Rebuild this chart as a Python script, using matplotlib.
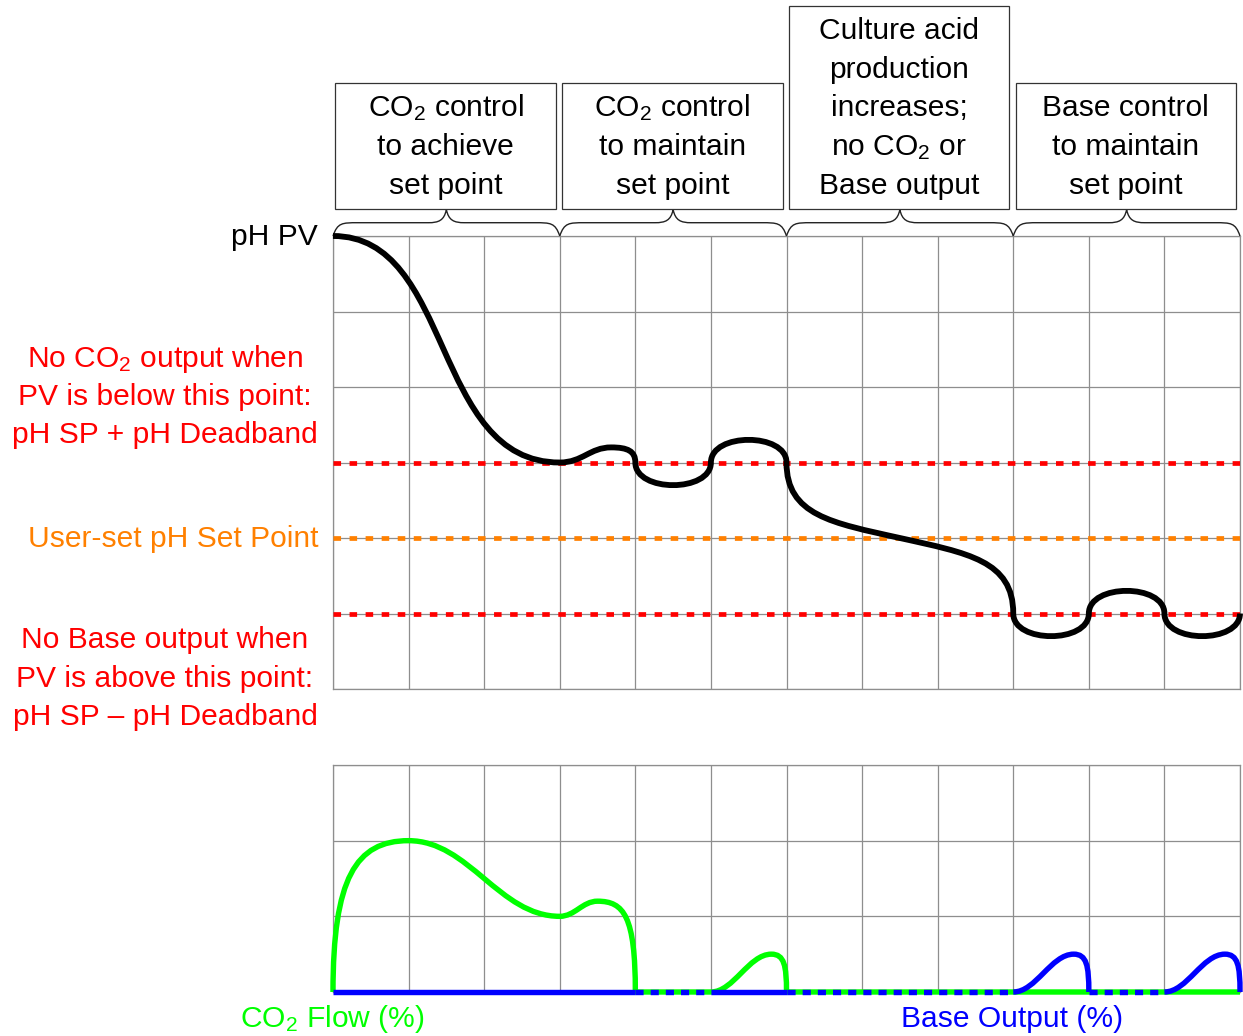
import numpy as np
import matplotlib
matplotlib.use('Agg')
import matplotlib.pyplot as plt
from matplotlib.path import Path
from matplotlib.patches import PathPatch, Rectangle

plt.rcParams['font.family'] = ['Liberation Sans', 'DejaVu Sans']
plt.rcParams['mathtext.fontset'] = 'custom'
plt.rcParams['mathtext.rm'] = 'Liberation Sans'
plt.rcParams['mathtext.it'] = 'Liberation Sans:italic'
plt.rcParams['mathtext.bf'] = 'Liberation Sans:bold'

# ---------------- data ----------------
n_cols = 12
ph_rows = 6
out_rows = 3
deadband_high = 3      # pH SP + deadband (grid units)
set_point = 2          # user set point
deadband_low = 1       # pH SP - deadband

# pH PV curve: start point, then cubic Bezier segments (ctrl, ctrl, end)
pv_x = [0.0,
        1.6, 1.3, 3.0,
        3.3, 3.4, 3.68,
        3.9, 4.0, 4.0,
        4.0, 5.0, 5.0,
        5.0, 6.0, 6.0,
        6.0, 6.6, 7.5,
        8.4, 9.0, 9.0,
        9.0, 10.0, 10.0,
        10.0, 11.0, 11.0,
        11.0, 12.0, 12.0]
pv_y = [6.0,
        6.0, 3.0, 3.0,
        3.0, 3.2, 3.2,
        3.2, 3.15, 3.0,
        2.6, 2.6, 3.0,
        3.4, 3.4, 3.0,
        2.3, 2.2, 2.0,
        1.8, 1.7, 1.0,
        0.6, 0.6, 1.0,
        1.4, 1.4, 1.0,
        0.6, 0.6, 1.0]

# CO2 flow (%) curve: start, Bezier segments; None marks a straight run to the next point
co2_x = [0.0,
         0.0, 0.3, 1.0,
         1.8, 2.2, 3.0,
         3.2, 3.3, 3.5,
         3.85, 4.0, 4.0,
         None, 5.0,
         5.3, 5.5, 5.8,
         5.97, 6.0, 6.0,
         None, 12.0]
co2_y = [0.0,
         1.5, 2.0, 2.0,
         2.0, 1.0, 1.0,
         1.0, 1.2, 1.2,
         1.2, 1.0, 0.0,
         None, 0.0,
         0.0, 0.5, 0.5,
         0.5, 0.35, 0.0,
         None, 0.0]

# Base output (%) bumps
base_x = [[9.0, 9.3, 9.5, 9.8, 9.97, 10.0, 10.0],
          [11.0, 11.3, 11.5, 11.8, 11.97, 12.0, 12.0]]
base_y = [[0.0, 0.0, 0.5, 0.5, 0.5, 0.35, 0.0],
          [0.0, 0.0, 0.5, 0.5, 0.5, 0.35, 0.0]]

co2_on = [(0, 4), (5, 6)]
idle = [(4, 5), (6, 9), (10, 11)]

phase_spans = [(0, 3), (3, 6), (6, 9), (9, 12)]
phase_labels = [
    ['CO$_\\mathrm{2}$ control', 'to achieve', 'set point'],
    ['CO$_\\mathrm{2}$ control', 'to maintain', 'set point'],
    ['Culture acid', 'production', 'increases;', 'no CO$_\\mathrm{2}$ or', 'Base output'],
    ['Base control', 'to maintain', 'set point'],
]
high_label = ['No CO$_\\mathrm{2}$ output when', 'PV is below this point:', 'pH SP + pH Deadband']
low_label = ['No Base output when', 'PV is above this point:', 'pH SP \u2013 pH Deadband']
sp_label = 'User-set pH Set Point'
pv_label = 'pH PV'
co2_label = 'CO$_\\mathrm{2}$ Flow (%)'
base_label = 'Base Output (%)'


def bezier_path(xs, ys):
    verts, codes = [(xs[0], ys[0])], [Path.MOVETO]
    i = 1
    while i < len(xs):
        if xs[i] is None:
            verts.append((xs[i + 1], ys[i + 1]))
            codes.append(Path.LINETO)
            i += 2
        else:
            for k in range(3):
                verts.append((xs[i + k], ys[i + k]))
                codes.append(Path.CURVE4)
            i += 3
    return Path(verts, codes)


# ---------------- figure ----------------
W, H, DPI = 1243, 1036, 100
fig = plt.figure(figsize=(W / DPI, H / DPI), dpi=DPI)


def fx(x):
    return x / W


def fy(y):
    return 1 - y / H


GRID = '#8e8e8e'
FS = 21.6

ax = fig.add_axes([fx(333), fy(689), fx(1240) - fx(333), fy(236) - fy(689)])
ax2 = fig.add_axes([fx(333), fy(992), fx(1240) - fx(333), fy(765) - fy(992)])

for a, rows in ((ax, ph_rows), (ax2, out_rows)):
    a.set_xlim(0, n_cols)
    a.set_ylim(0, rows)
    a.set_xticks(range(n_cols + 1))
    a.set_yticks(range(rows + 1))
    a.grid(True, color=GRID, lw=0.9)
    a.tick_params(length=0, labelbottom=False, labelleft=False)
    for s in a.spines.values():
        s.set_color(GRID)
        s.set_linewidth(0.9)
    a.set_axisbelow(True)

# reference lines
ax.plot([0, n_cols], [deadband_high] * 2, color='#ff0000', lw=3.4, dashes=(1.6, 1.8), zorder=3)
ax.plot([0, n_cols], [set_point] * 2, color='#ff8000', lw=3.4, dashes=(1.6, 1.8), zorder=3)
ax.plot([0, n_cols], [deadband_low] * 2, color='#ff0000', lw=3.4, dashes=(1.6, 1.8), zorder=3)

# PV curve
ax.add_patch(PathPatch(bezier_path(pv_x, pv_y), fill=False, edgecolor='black', lw=4.2,
                       joinstyle='round', capstyle='butt', clip_on=False, zorder=5))

# outputs
ax2.add_patch(PathPatch(bezier_path(co2_x, co2_y), fill=False, edgecolor='#00ff00', lw=3.9,
                        joinstyle='round', capstyle='butt', clip_on=False, zorder=4))
for a0, b0 in co2_on:
    ax2.plot([a0, b0], [0, 0], color='#0000ff', lw=3.9, solid_capstyle='butt', clip_on=False, zorder=5)
for a0, b0 in idle:
    ax2.plot([a0, b0], [0, 0], color='#0000ff', lw=3.9, dashes=(1.5, 1.3), clip_on=False, zorder=5)
for bx, by in zip(base_x, base_y):
    ax2.add_patch(PathPatch(bezier_path(bx, by), fill=False, edgecolor='#0000ff', lw=3.9,
                            joinstyle='round', capstyle='butt', clip_on=False, zorder=6))

# braces
y0, yf, yt = 6.0, 6.176, 6.35
for a0, b0 in phase_spans:
    m = (a0 + b0) / 2
    verts = [(a0, y0), (a0 + 0.06, yf), (a0 + 0.12, yf), (a0 + 0.33, yf),
             (m - 0.24, yf),
             (m - 0.1, yf), (m - 0.03, yf + 0.03), (m, yt),
             (m + 0.03, yf + 0.03), (m + 0.1, yf), (m + 0.24, yf),
             (b0 - 0.33, yf),
             (b0 - 0.12, yf), (b0 - 0.06, yf), (b0, y0)]
    codes = [Path.MOVETO, Path.CURVE4, Path.CURVE4, Path.CURVE4, Path.LINETO,
             Path.CURVE4, Path.CURVE4, Path.CURVE4,
             Path.CURVE4, Path.CURVE4, Path.CURVE4, Path.LINETO,
             Path.CURVE4, Path.CURVE4, Path.CURVE4]
    ax.add_patch(PathPatch(Path(verts, codes), fill=False, lw=1.0, edgecolor='#222222',
                           clip_on=False, zorder=4))

# phase boxes and text
box_bottom_px = 209
last_base_px = 193.5
step_px = 38.6
for (a0, b0), lines in zip(phase_spans, phase_labels):
    left_px = 333 + (a0 + 0.03) * (907 / n_cols)
    right_px = 333 + (b0 - 0.05) * (907 / n_cols)
    top_px = box_bottom_px - (len(lines) * 38.8 + 9.3)
    fig.patches.append(Rectangle((fx(left_px), fy(box_bottom_px)), fx(right_px) - fx(left_px),
                                 fy(top_px) - fy(box_bottom_px), transform=fig.transFigure,
                                 fill=False, edgecolor='#333333', lw=0.9))
    cx = (left_px + right_px) / 2
    n = len(lines)
    for i, t in enumerate(lines):
        by = last_base_px - (n - 1 - i) * step_px
        fig.text(fx(cx), fy(by), t, ha='center', va='baseline', fontsize=FS, color='black')

# left labels
for i, t in enumerate(high_label):
    fig.text(fx(165), fy(367.3 + i * 38.0), t, ha='center', va='baseline', fontsize=FS, color='#ff0000')
for i, t in enumerate(low_label):
    fig.text(fx(165), fy(648.3 + i * 38.3), t, ha='center', va='baseline', fontsize=FS, color='#ff0000')
fig.text(fx(318), fy(546.7), sp_label, ha='right', va='baseline', fontsize=FS, color='#ff8000')
fig.text(fx(318), fy(245), pv_label, ha='right', va='baseline', fontsize=FS, color='black')

# bottom labels
fig.text(fx(332), fy(1027.3), co2_label, ha='center', va='baseline', fontsize=FS, color='#00ff00')
fig.text(fx(1012), fy(1027.3), base_label, ha='center', va='baseline', fontsize=FS, color='#0000ff')

fig.savefig('out.png', dpi=DPI)
